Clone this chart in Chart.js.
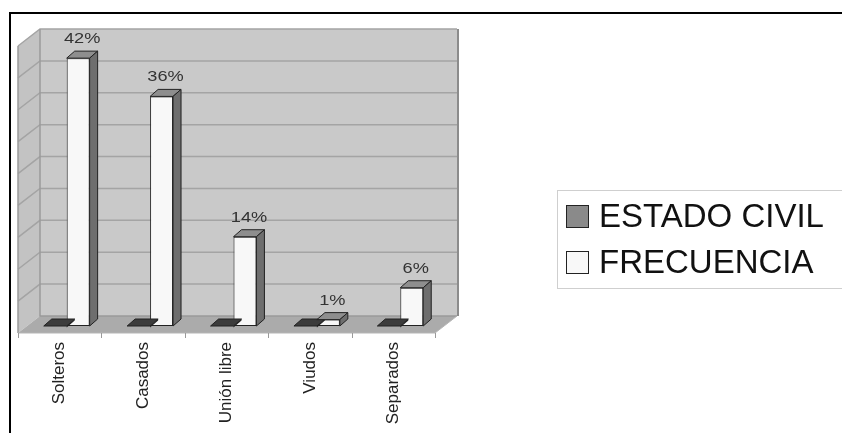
<!DOCTYPE html>
<html lang="es">
<head>
<meta charset="utf-8">
<title>Estado civil</title>
<script src="https://cdn.jsdelivr.net/npm/chart.js@4/dist/chart.umd.min.js"></script>
<style>
  html, body { margin: 0; padding: 0; background: #fff; overflow: hidden; }
  #lienzo { position: relative; width: 842px; height: 433px; }
  #lienzo canvas { position: absolute; left: 0; top: 0; }
  #marco {
    position: absolute; left: 9px; top: 12px; right: -5px; bottom: -5px;
    border-top: 2px solid #000; border-left: 2px solid #000;
  }
  #leyenda {
    position: absolute; left: 557px; top: 190px; width: 300px; height: 95px;
    border: 1px solid #cfcfcf; padding-top: 2px;
    font-family: 'Liberation Sans', Arial, sans-serif; font-size: 33px; color: #111;
  }
  #leyenda .item { display: flex; align-items: center; height: 46px; }
  #leyenda .caja { width: 21px; height: 21px; border: 1px solid #222; margin: 0 10px 0 8px; }
</style>
</head>
<body>
<div id="lienzo">
  <canvas id="grafico" width="842" height="433"></canvas>
  <div id="marco"></div>
  <div id="leyenda"></div>
</div>
<script>
// Datos
const categorias = ['Solteros', 'Casados', 'Unión libre', 'Viudos', 'Separados'];
const estadoCivil = [0, 0, 0, 0, 0];
const frecuencia = [42, 36, 14, 1, 6];
const etiquetas = ['42%', '36%', '14%', '1%', '6%'];
const ejeMax = 45;
const ejePaso = 5;

const FUENTE = "'Liberation Sans', Arial, sans-serif";

// desplazamientos de la perspectiva (plano de barras -> frente / fondo)
const FRENTE = { dx: -7, dy: 7 };
const PROF = { dx: 22, dy: -17 };
const BARRA = { dx: 8, dy: -7 };

function poligono(ctx, pts, relleno, borde, grosor) {
  ctx.beginPath();
  ctx.moveTo(pts[0][0], pts[0][1]);
  for (let i = 1; i < pts.length; i++) ctx.lineTo(pts[i][0], pts[i][1]);
  ctx.closePath();
  if (relleno) { ctx.fillStyle = relleno; ctx.fill(); }
  if (borde) { ctx.strokeStyle = borde; ctx.lineWidth = grosor || 1; ctx.stroke(); }
}

// paredes, piso y cuadricula en 3D
const paredes3d = {
  id: 'paredes3d',
  beforeDatasetsDraw(chart) {
    const { ctx, chartArea } = chart;
    const y = chart.scales.y;
    const izq = chartArea.left + FRENTE.dx;
    const der = chartArea.right + FRENTE.dx;
    const yf = v => y.getPixelForValue(v) + FRENTE.dy;
    const bx = x => x + PROF.dx;
    const by = yy => yy + PROF.dy;

    ctx.save();
    // pared del fondo
    poligono(ctx, [[bx(izq), by(yf(ejeMax))], [bx(der), by(yf(ejeMax))],
                   [bx(der), by(yf(0))], [bx(izq), by(yf(0))]], '#c9c9c9', null);
    // pared lateral
    poligono(ctx, [[izq, yf(0)], [izq, yf(ejeMax)], [bx(izq), by(yf(ejeMax))],
                   [bx(izq), by(yf(0))]], '#c3c3c3', null);
    // piso
    poligono(ctx, [[izq, yf(0)], [der, yf(0)], [bx(der), by(yf(0))],
                   [bx(izq), by(yf(0))]], '#ababab', null);

    // lineas de cuadricula
    ctx.strokeStyle = '#a4a4a4';
    ctx.lineWidth = 1.5;
    for (let v = ejePaso; v <= ejeMax; v += ejePaso) {
      ctx.beginPath();
      ctx.moveTo(izq, yf(v));
      ctx.lineTo(bx(izq), by(yf(v)));
      ctx.lineTo(bx(der), by(yf(v)));
      ctx.stroke();
    }
    // aristas
    ctx.strokeStyle = '#9a9a9a';
    ctx.lineWidth = 1.5;
    ctx.beginPath();
    ctx.moveTo(bx(izq), by(yf(ejeMax)));
    ctx.lineTo(bx(izq), by(yf(0)));
    ctx.lineTo(bx(der), by(yf(0)));
    ctx.moveTo(izq, yf(0));
    ctx.lineTo(izq, yf(ejeMax));
    ctx.stroke();
    ctx.strokeStyle = '#8c8c8c';
    ctx.lineWidth = 2;
    ctx.beginPath();
    ctx.moveTo(bx(der) + 1, by(yf(ejeMax)));
    ctx.lineTo(bx(der) + 1, by(yf(0)));
    ctx.stroke();
    ctx.strokeStyle = '#b5b5b5';
    ctx.lineWidth = 1;
    ctx.beginPath();
    ctx.moveTo(izq, yf(0));
    ctx.lineTo(der, yf(0));
    ctx.lineTo(bx(der), by(yf(0)));
    ctx.stroke();

    // marcas del eje de categorias
    const xs = chart.scales.x;
    const ancho = (chartArea.right - chartArea.left) / categorias.length;
    ctx.strokeStyle = '#9a9a9a';
    ctx.lineWidth = 1;
    for (let i = 0; i <= categorias.length; i++) {
      const px = Math.round(xs.getPixelForTick(0) - ancho / 2 + i * ancho + FRENTE.dx) + 0.5;
      ctx.beginPath();
      ctx.moveTo(px, yf(0));
      ctx.lineTo(px, yf(0) + 5);
      ctx.stroke();
    }
    ctx.restore();
  },
  afterDatasetsDraw(chart) {
    const { ctx } = chart;
    ctx.save();
    chart.data.datasets.forEach((ds, di) => {
      const meta = chart.getDatasetMeta(di);
      meta.data.forEach((bar, j) => {
        const x0 = bar.x - bar.width / 2;
        const x1 = bar.x + bar.width / 2;
        const top = Math.min(bar.y, bar.base);
        const base = bar.base;
        const cara = ds.caraSuperior;
        // cara superior
        poligono(ctx, [[x0, top], [x1, top], [x1 + BARRA.dx, top + BARRA.dy],
                       [x0 + BARRA.dx, top + BARRA.dy]], cara, '#222', 1);
        // cara lateral
        if (base - top > 0.5) {
          poligono(ctx, [[x1, top], [x1 + BARRA.dx, top + BARRA.dy],
                         [x1 + BARRA.dx, base + BARRA.dy], [x1, base]], ds.caraLateral, '#222', 1);
        } else {
          poligono(ctx, [[x1, base], [x1 + BARRA.dx, base + BARRA.dy],
                         [x1 + BARRA.dx, base + BARRA.dy + 1.5], [x1, base + 1.5]], '#222', null);
        }
      });
    });

    // etiquetas de porcentaje
    const meta = chart.getDatasetMeta(1);
    ctx.fillStyle = '#333';
    ctx.font = '14px ' + FUENTE;
    ctx.textAlign = 'center';
    ctx.textBaseline = 'alphabetic';
    meta.data.forEach((bar, j) => {
      ctx.save();
      ctx.translate(bar.x + BARRA.dx / 2, Math.min(bar.y, bar.base) - 15);
      ctx.scale(1.3, 1);
      ctx.fillText(etiquetas[j], 0, 0);
      ctx.restore();
    });
    ctx.restore();
  }
};

const grafico = new Chart(document.getElementById('grafico'), {
  type: 'bar',
  data: {
    labels: categorias,
    datasets: [
      {
        label: 'ESTADO CIVIL',
        data: estadoCivil,
        backgroundColor: '#8a8a8a',
        borderColor: '#222',
        borderWidth: 1,
        caraSuperior: '#3c3c3c',
        caraLateral: '#2a2a2a'
      },
      {
        label: 'FRECUENCIA',
        data: frecuencia,
        backgroundColor: '#f8f8f8',
        borderColor: '#222',
        borderWidth: 1,
        caraSuperior: '#8e8e8e',
        caraLateral: '#6e6e6e'
      }
    ]
  },
  options: {
    responsive: false,
    animation: false,
    devicePixelRatio: 1,
    layout: { padding: { left: 25, top: 39, right: 400, bottom: 0 } },
    datasets: {
      bar: { categoryPercentage: 0.55, barPercentage: 1.0, borderSkipped: false }
    },
    scales: {
      x: {
        grid: { display: false },
        border: { display: false },
        ticks: {
          autoSkip: false,
          minRotation: 90,
          maxRotation: 90,
          padding: 8,
          labelOffset: FRENTE.dx,
          color: '#222',
          font: { family: FUENTE, size: 17 }
        },
        afterFit(escala) { escala.height = 107; }
      },
      y: {
        display: false,
        min: 0,
        max: ejeMax
      }
    },
    plugins: {
      legend: { display: false },
      tooltip: { enabled: false }
    }
  },
  plugins: [paredes3d]
});

// leyenda a partir de los datasets
const leyenda = document.getElementById('leyenda');
grafico.data.datasets.forEach(ds => {
  const item = document.createElement('div');
  item.className = 'item';
  item.innerHTML = `<span class="caja" style="background:${ds.backgroundColor}"></span><span>${ds.label}</span>`;
  leyenda.appendChild(item);
});
</script>
</body>
</html>
